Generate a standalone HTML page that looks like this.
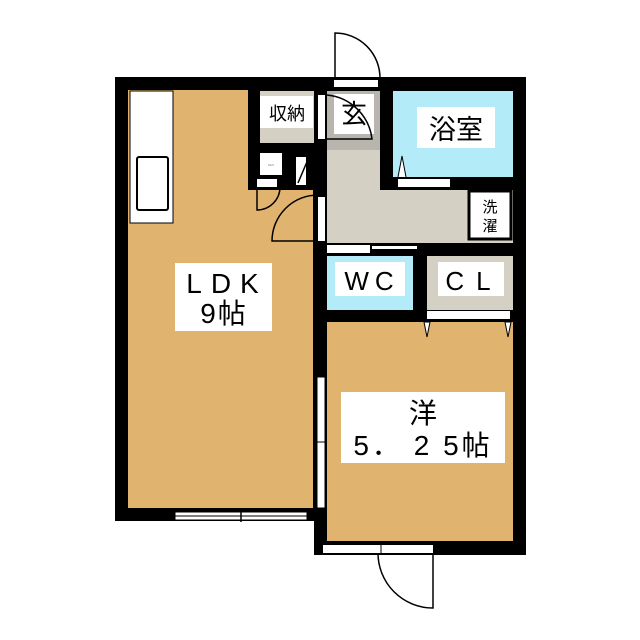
<!DOCTYPE html>
<html><head><meta charset="utf-8"><style>
html,body{margin:0;padding:0;background:#fff;}
svg{display:block;}
text{font-family:"Liberation Sans","Noto Sans CJK JP",sans-serif;}
</style></head><body>
<svg width="640" height="640" viewBox="0 0 640 640" xmlns="http://www.w3.org/2000/svg">
<polygon points="115,77 526,77 526,555 314,555 314,521 115,521" fill="#000"/>
<polygon points="128,90 248,90 248,190 313,190 313,508 128,508" fill="#e0b46e"/>
<rect x="130" y="91" width="43" height="132" fill="#fff" stroke="#000" stroke-width="1"/>
<rect x="137" y="157" width="31" height="53" fill="#fff" stroke="#000" stroke-width="2" rx="2"/>
<rect x="260" y="91" width="54" height="52" fill="#d5d0c4"/>
<rect x="260" y="96" width="53" height="32" fill="#fff"/>
<text x="287" y="120" font-size="18" text-anchor="middle">収納</text>
<rect x="318" y="95" width="7" height="44" fill="#fff"/>
<rect x="260" y="153" width="22" height="22" fill="#fff"/>
<text x="271" y="166" font-size="3" text-anchor="middle" fill="#888">DEN</text>
<rect x="257" y="179" width="20" height="8" fill="#fff"/>
<path d="M257,187 L257,210 A23,23 0 0 0 280,187" fill="none" stroke="#000" stroke-width="1.5"/>
<rect x="296" y="157" width="10" height="28" fill="#fff"/>
<path d="M298,183 L309,157 M309,157 L309,175" stroke="#000" stroke-width="1.5" fill="none"/>
<path d="M309,175 A16,16 0 0 0 329,154" fill="none" stroke="#000" stroke-width="1.5"/>
<rect x="327" y="91" width="53" height="59" fill="#b8b4ae"/>
<rect x="334" y="94" width="40" height="40" fill="#fff"/>
<text x="354" y="123" font-size="26" text-anchor="middle">玄</text>
<path d="M327,95 A50,50 0 0 1 372,139 L327,139" fill="none" stroke="#000" stroke-width="1.5"/>
<polygon points="327,150 380,150 380,190 513,190 513,243 327,243" fill="#d5d0c4"/>
<rect x="318" y="197" width="7" height="44" fill="#fff"/>
<path d="M318,241 L272,241 A46,46 0 0 1 318,195" fill="none" stroke="#000" stroke-width="1.5"/>
<rect x="393" y="91" width="120" height="86" fill="#b3ecf8"/>
<rect x="417" y="107" width="78" height="41" fill="#fff"/>
<text x="456" y="139" font-size="27" text-anchor="middle">浴室</text>
<rect x="398" y="179" width="52" height="8" fill="#fff"/>
<path d="M398,177 L402,156 L406,177" fill="#fff" stroke="#000" stroke-width="1"/>
<rect x="469" y="191" width="42" height="48" fill="#fff" stroke="#000" stroke-width="3"/>
<text x="490" y="212" font-size="15" text-anchor="middle">洗</text>
<text x="490" y="231" font-size="15" text-anchor="middle">濯</text>
<rect x="327" y="245" width="43" height="8" fill="#fff"/>
<rect x="372" y="246" width="45" height="3" fill="#fff"/>
<rect x="327" y="256" width="86" height="54" fill="#b3ecf8"/>
<rect x="335" y="262" width="70" height="34" fill="#fff"/>
<text x="372" y="290" font-size="26" text-anchor="middle" letter-spacing="6">WC</text>
<rect x="427" y="256" width="86" height="54" fill="#d5d0c4"/>
<rect x="438" y="262" width="66" height="34" fill="#fff"/>
<text x="474" y="290" font-size="26" text-anchor="middle" letter-spacing="12">CL</text>
<rect x="427" y="311" width="83" height="8" fill="#fff"/>
<rect x="327" y="322" width="186" height="219" fill="#e0b46e"/>
<path d="M424,322 L427,337 L430,322 Z M505,322 L508,337 L511,322 Z" fill="#fff" stroke="#000" stroke-width="1"/>
<rect x="175" y="263" width="97" height="68" fill="#fff"/>
<text x="227" y="293" font-size="28" text-anchor="middle" letter-spacing="9">LDK</text>
<text x="224" y="323" font-size="28" text-anchor="middle" letter-spacing="2">9帖</text>
<rect x="341" y="392" width="164" height="71" fill="#fff"/>
<text x="423" y="423" font-size="28" text-anchor="middle">洋</text>
<text x="423" y="455" font-size="28" text-anchor="middle" letter-spacing="3">5．  2 5帖</text>
<rect x="175" y="512" width="132" height="8" fill="#fff" stroke="#000" stroke-width="1"/>
<line x1="175" y1="516" x2="307" y2="516" stroke="#000" stroke-width="1"/>
<line x1="241" y1="509" x2="241" y2="522" stroke="#000" stroke-width="1.5"/>
<rect x="317" y="377" width="8" height="131" fill="#fff" stroke="#000" stroke-width="1"/>
<line x1="317" y1="442" x2="325" y2="442" stroke="#000" stroke-width="1"/>
<rect x="334" y="80" width="44" height="7" fill="#fff"/>
<path d="M335,78 L335,33 A45,45 0 0 1 380,78" fill="none" stroke="#000" stroke-width="1.5"/>
<rect x="323" y="545" width="110" height="8" fill="#fff"/>
<line x1="381" y1="545" x2="381" y2="553" stroke="#000" stroke-width="1"/>
<path d="M378,553 A55,55 0 0 0 433,608 L433,553" fill="none" stroke="#000" stroke-width="1.5"/>
</svg>
</body></html>
